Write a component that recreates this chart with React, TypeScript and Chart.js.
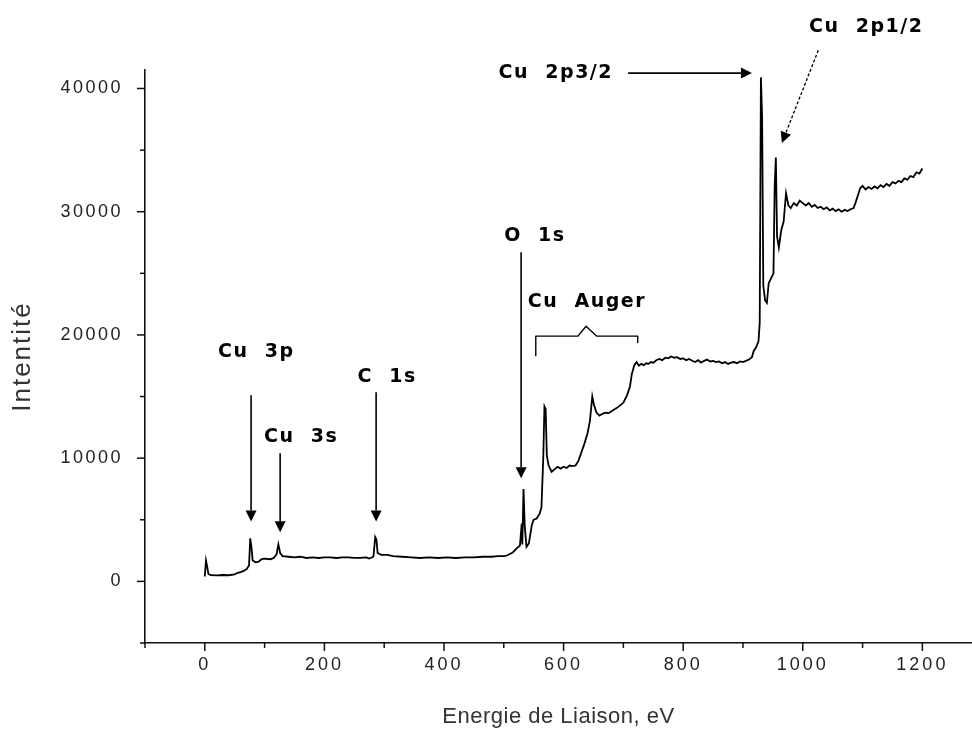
import React, { useEffect, useRef } from 'react';
import { Chart, registerables } from 'chart.js';

Chart.register(...registerables);

// Binding energy (eV)
const energy = [
  0, 2, 4, 6, 10, 20, 30, 40, 50, 55, 60, 65, 70, 74, 76, 78, 80, 85, 90, 95, 100, 110, 115, 120, 123, 126, 130,
  140, 150, 160, 170, 180, 190, 200, 210, 220, 230, 240, 250, 260, 270, 275, 282, 285, 287, 289, 295, 305, 315, 330,
  345, 360, 375, 390, 405, 420, 435, 450, 465, 480, 490, 500, 505, 515, 522, 527,
  530, 531, 533, 535, 538, 542, 547, 550, 555, 560, 563, 566, 568, 570, 572, 575, 580, 585, 590, 595, 600, 605, 610,
  615, 620, 625, 630, 635, 640, 644, 648, 651, 655, 660, 665, 670, 675, 680, 690, 700, 706, 711, 714, 718,
  722, 726, 730, 734, 738, 742, 746, 750, 755, 760, 765, 770, 775, 780, 785, 790, 795, 800, 805, 810, 815, 820,
  825, 830, 835, 840, 845, 850, 855, 860, 865, 870, 875, 880, 885, 890, 895, 900, 905, 910, 915, 918, 922,
  926, 928, 930, 932, 934, 937, 940, 943, 948, 951, 953, 955, 957, 960, 964, 968, 972,
  976, 980, 985, 990, 995, 1000, 1005, 1010, 1015, 1020, 1025, 1030, 1035, 1040, 1045, 1050, 1055, 1060, 1065, 1070,
  1075, 1080, 1085, 1088, 1092, 1096, 1100, 1105, 1110, 1115, 1120, 1125, 1130, 1135, 1140, 1145, 1150, 1155, 1160,
  1165, 1170, 1175, 1180, 1185, 1190, 1195, 1200,
];
// Intensity (counts) at each energy above
const intensity = [
  400, 1700, 1200, 600, 500, 480, 520, 500, 560, 700, 750, 850, 1000, 1300, 3500, 2800, 1700, 1550, 1600, 1800, 1850, 1800, 1900, 2200, 3000, 2300, 2050,
  2000, 1950, 2000, 1900, 1950, 1900, 1950, 1950, 1900, 1950, 1950, 1900, 1900, 1950, 1850, 2000, 3600, 3400, 2300, 2150, 2150, 2050, 2000,
  1950, 1900, 1950, 1900, 1950, 1900, 1950, 1950, 2000, 2000, 2050, 2050, 2100, 2350, 2700, 2900,
  4700, 3000, 7500, 4500, 2800, 3100, 4600, 5000, 5100, 5500, 6000, 10000, 14200, 14000, 10200, 9400, 8900, 9100, 9300, 9150, 9300, 9200, 9400,
  9350, 9400, 9800, 10500, 11200, 12000, 13000, 15000, 14300, 13700, 13450, 13600, 13700, 13650, 13800, 14100, 14500, 15100, 15800, 16800, 17500,
  17800, 17500, 17650, 17550, 17700, 17650, 17800, 17750, 17950, 18050, 17950, 18150, 18100, 18250, 18150, 18200, 18050, 18100, 17950, 18050, 17900, 17800,
  17950, 17750, 17900, 18000, 17850, 17900, 17800, 17850, 17700, 17800, 17650, 17750, 17800, 17700, 17850, 17800, 17900, 18000, 18200, 18700, 19000,
  19500, 21000, 40900, 37700, 24000, 22800, 22600, 24200, 24700, 25000, 32000, 34400, 28000, 27100, 28500, 29200, 31500,
  30500, 30300, 30700, 30500, 30900, 30700, 30500, 30700, 30400, 30550, 30300, 30400, 30200, 30350, 30100, 30250, 30050, 30200, 30000, 30150,
  30050, 30200, 30300, 30700, 31300, 31900, 32100, 31800, 32000, 31850, 32050, 31900, 32150, 32000, 32250, 32100, 32400, 32300, 32500,
  32400, 32700, 32600, 32900, 32800, 33200, 33100, 33500,
];

const xTickValues = [-100, 0, 100, 200, 300, 400, 500, 600, 700, 800, 900, 1000, 1100, 1200];
const xTickLabels = [0, 200, 400, 600, 800, 1000, 1200];
const yTickValues = [-5000, 0, 5000, 10000, 15000, 20000, 25000, 30000, 35000, 40000];
const yTickLabels = [0, 10000, 20000, 30000, 40000];

// Peak annotations (data units)
const labelTexts = ['Cu  2p3/2', 'Cu  2p1/2', 'O  1s', 'Cu  Auger', 'C  1s', 'Cu  3p', 'Cu  3s'];
const labelX = [587, 1106, 552, 639, 305, 86, 161];
const labelY = [41250, 45000, 28000, 22650, 16560, 18600, 11700];

const arrowFromX = [708, 1026, 529, 286.5, 77.4, 126];
const arrowFromY = [41250, 43100, 26700, 15350, 15100, 10390];
const arrowToX = [915, 965, 529, 286.5, 77.4, 126];
const arrowToY = [41250, 35570, 8360, 4870, 4870, 3980];
const arrowDashed = [false, true, false, false, false, false];

// Cu Auger brace (data units)
const braceX = [553.5, 553.5, 624, 637.6, 655.5, 724, 724];
const braceY = [18270, 19900, 19900, 20700, 19900, 19900, 19350];

function patchScale(scale: any, labelSpacing: string, titleSpacing: string) {
  if (scale.__patched) return;
  scale.__patched = true;
  const origLabels = scale.drawLabels.bind(scale);
  const origTitle = scale.drawTitle.bind(scale);
  scale.drawLabels = (ca: any) => {
    const ctx = scale.ctx;
    ctx.save();
    ctx.letterSpacing = labelSpacing;
    origLabels(ca);
    ctx.restore();
  };
  scale.drawTitle = () => {
    const ctx = scale.ctx;
    ctx.save();
    ctx.letterSpacing = titleSpacing;
    origTitle();
    ctx.restore();
  };
}

const decorPlugin = {
  id: 'decor',
  afterDraw(chart: any) {
    const ctx = chart.ctx as CanvasRenderingContext2D;
    const xs = chart.scales.x;
    const ys = chart.scales.y;
    ctx.save();
    ctx.strokeStyle = '#111';
    ctx.fillStyle = '#111';
    ctx.lineWidth = 1.5;
    // axis ticks
    xs.ticks.forEach((t: any) => {
      const px = xs.getPixelForValue(t.value);
      const len = xTickLabels.includes(t.value) ? 8 : 5;
      ctx.beginPath();
      ctx.moveTo(px, xs.top);
      ctx.lineTo(px, xs.top + len);
      ctx.stroke();
    });
    ys.ticks.forEach((t: any) => {
      const py = ys.getPixelForValue(t.value);
      const len = yTickLabels.includes(t.value) ? 8 : 5;
      ctx.beginPath();
      ctx.moveTo(ys.right, py);
      ctx.lineTo(ys.right - len, py);
      ctx.stroke();
    });

    // arrows
    ctx.strokeStyle = '#000';
    ctx.fillStyle = '#000';
    for (let i = 0; i < arrowFromX.length; i++) {
      const x1 = xs.getPixelForValue(arrowFromX[i]);
      const y1 = ys.getPixelForValue(arrowFromY[i]);
      const x2 = xs.getPixelForValue(arrowToX[i]);
      const y2 = ys.getPixelForValue(arrowToY[i]);
      const ang = Math.atan2(y2 - y1, x2 - x1);
      const head = 11;
      const hw = 5.5;
      const bx = x2 - head * Math.cos(ang);
      const by = y2 - head * Math.sin(ang);
      ctx.lineWidth = arrowDashed[i] ? 1.3 : 1.6;
      ctx.setLineDash(arrowDashed[i] ? [3, 2] : []);
      ctx.beginPath();
      ctx.moveTo(x1, y1);
      ctx.lineTo(bx, by);
      ctx.stroke();
      ctx.setLineDash([]);
      ctx.beginPath();
      ctx.moveTo(x2, y2);
      ctx.lineTo(bx + hw * Math.sin(ang), by - hw * Math.cos(ang));
      ctx.lineTo(bx - hw * Math.sin(ang), by + hw * Math.cos(ang));
      ctx.closePath();
      ctx.fill();
    }

    // brace
    ctx.lineWidth = 1.4;
    ctx.lineJoin = 'round';
    ctx.beginPath();
    braceX.forEach((bx, i) => {
      const px = xs.getPixelForValue(bx);
      const py = ys.getPixelForValue(braceY[i]);
      if (i === 0) ctx.moveTo(px, py);
      else ctx.lineTo(px, py);
    });
    ctx.stroke();

    // labels
    (ctx as any).letterSpacing = '1.5px';
    ctx.font = 'bold 19px "DejaVu Sans"';
    ctx.textAlign = 'center';
    ctx.textBaseline = 'middle';
    labelTexts.forEach((txt, i) => {
      ctx.fillText(txt, xs.getPixelForValue(labelX[i]), ys.getPixelForValue(labelY[i]));
    });
    ctx.restore();
  },
};

export default function App() {
  const canvasRef = useRef<HTMLCanvasElement | null>(null);

  useEffect(() => {
    const canvas = canvasRef.current;
    if (!canvas) return;
    const points = energy.map((e, i) => ({ x: e, y: intensity[i] }));
    const chart = new Chart(canvas, {
      type: 'line',
      data: {
        datasets: [
          {
            data: points,
            borderColor: '#000',
            borderWidth: 1.8,
            pointRadius: 0,
            tension: 0,
            fill: false,
          },
        ],
      },
      options: {
        animation: false,
        responsive: false,
        maintainAspectRatio: false,
        layout: { padding: { top: 70, right: 0, bottom: 0, left: 0 } },
        plugins: { legend: { display: false }, tooltip: { enabled: false } },
        scales: {
          x: {
            type: 'linear',
            min: -100,
            max: 1283,
            afterBuildTicks: (scale: any) => {
              scale.ticks = xTickValues.map((v) => ({ value: v }));
            },
            afterFit: (scale: any) => {
              scale.height = 94;
              patchScale(scale, '3px', '0.5px');
            },
            border: { display: true, color: '#111', width: 1.6 },
            grid: { display: true, drawOnChartArea: false, drawTicks: true, tickLength: 8, tickColor: 'rgba(0,0,0,0)' },
            ticks: {
              maxRotation: 0,
              autoSkip: false,
              padding: 3,
              color: '#222',
              font: { family: '"Liberation Sans", Arial, sans-serif', size: 18 },
              callback: (v: any) => (xTickLabels.includes(Number(v)) ? String(v) : ''),
            },
            title: {
              display: true,
              text: 'Energie de Liaison, eV',
              color: '#333',
              font: { family: '"Liberation Sans", Arial, sans-serif', size: 22, weight: 'normal' },
              padding: { top: 0, bottom: 7 },
            },
          },
          y: {
            type: 'linear',
            min: -5000,
            max: 41500,
            afterBuildTicks: (scale: any) => {
              scale.ticks = yTickValues.map((v) => ({ value: v }));
            },
            afterFit: (scale: any) => {
              scale.width = 145;
              patchScale(scale, '2.5px', '2px');
            },
            border: { display: true, color: '#111', width: 1.6 },
            grid: { display: true, drawOnChartArea: false, drawTicks: true, tickLength: 8, tickColor: 'rgba(0,0,0,0)' },
            ticks: {
              autoSkip: false,
              padding: 14,
              color: '#222',
              font: { family: '"Liberation Sans", Arial, sans-serif', size: 18 },
              callback: (v: any) => (yTickLabels.includes(Number(v)) ? String(v) : ''),
            },
            title: {
              display: true,
              text: 'Intentité',
              color: '#333',
              font: { family: '"Liberation Sans", Arial, sans-serif', size: 26, weight: 'normal' },
              padding: { top: 7, bottom: 0 },
            },
          },
        },
      },
      plugins: [decorPlugin],
    });
    return () => chart.destroy();
  }, []);

  return (
    <div style={{ position: 'fixed', left: 0, top: 0, width: 972, height: 737, background: '#fff' }}>
      <canvas ref={canvasRef} width={972} height={737} style={{ width: 972, height: 737, display: 'block' }} />
    </div>
  );
}
